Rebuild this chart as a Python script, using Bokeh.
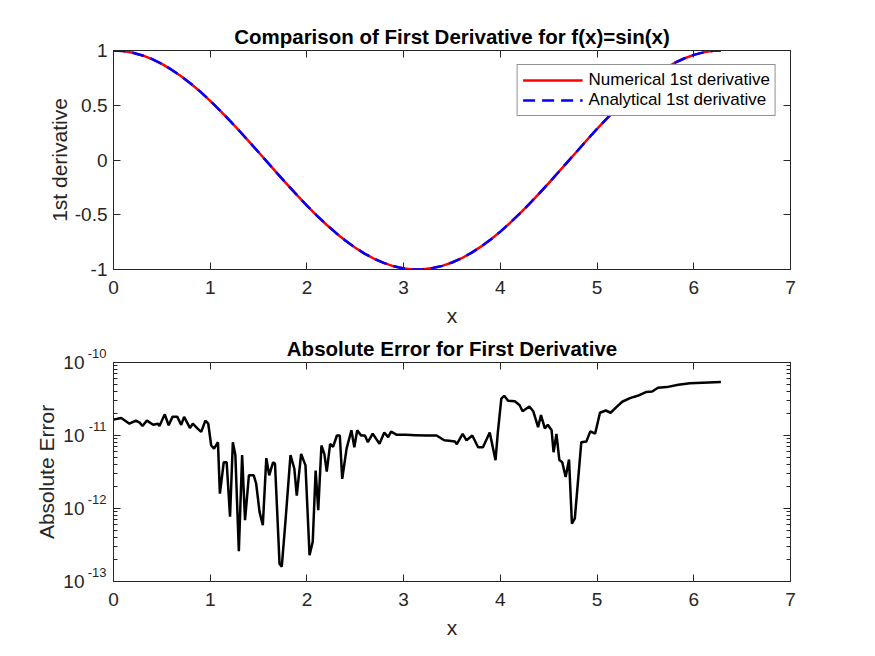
import math

from bokeh.plotting import figure
from bokeh.layouts import column
from bokeh.models import (Range1d, FixedTicker, LinearAxis, LogAxis, Legend, LegendItem,
                          CustomJSTickFormatter)
from bokeh.embed import file_html
from bokeh.resources import INLINE

# first derivative (numerical and analytical coincide)
x_deriv = [0.0, 0.1, 0.2, 0.3, 0.4, 0.5, 0.6, 0.7, 0.8, 0.9, 1.0, 1.1, 1.2, 1.3, 1.4, 1.5,
           1.6, 1.7, 1.8, 1.9, 2.0, 2.1, 2.2, 2.3, 2.4, 2.5, 2.6, 2.7, 2.8, 2.9, 3.0, 3.1,
           3.2, 3.3, 3.4, 3.5, 3.6, 3.7, 3.8, 3.9, 4.0, 4.1, 4.2, 4.3, 4.4, 4.5, 4.6, 4.7,
           4.8, 4.9, 5.0, 5.1, 5.2, 5.3, 5.4, 5.5, 5.6, 5.7, 5.8, 5.9, 6.0, 6.1, 6.2, 6.28]
num_deriv = [1.000, 0.995, 0.980, 0.955, 0.921, 0.878, 0.825, 0.765, 0.697, 0.622, 0.540,
             0.454, 0.362, 0.267, 0.170, 0.071, -0.029, -0.129, -0.227, -0.323, -0.416,
             -0.505, -0.589, -0.666, -0.737, -0.801, -0.857, -0.904, -0.942, -0.971, -0.990,
             -0.999, -0.998, -0.987, -0.967, -0.936, -0.897, -0.848, -0.791, -0.726, -0.654,
             -0.575, -0.490, -0.401, -0.307, -0.211, -0.112, -0.012, 0.087, 0.187, 0.284,
             0.378, 0.469, 0.554, 0.635, 0.709, 0.776, 0.835, 0.886, 0.927, 0.960, 0.983,
             0.997, 1.000]
ana_deriv = [1.000, 0.995, 0.980, 0.955, 0.921, 0.878, 0.825, 0.765, 0.697, 0.622, 0.540,
             0.454, 0.362, 0.267, 0.170, 0.071, -0.029, -0.129, -0.227, -0.323, -0.416,
             -0.505, -0.589, -0.666, -0.737, -0.801, -0.857, -0.904, -0.942, -0.971, -0.990,
             -0.999, -0.998, -0.987, -0.967, -0.936, -0.897, -0.848, -0.791, -0.726, -0.654,
             -0.575, -0.490, -0.401, -0.307, -0.211, -0.112, -0.012, 0.087, 0.187, 0.284,
             0.378, 0.469, 0.554, 0.635, 0.709, 0.776, 0.835, 0.886, 0.927, 0.960, 0.983,
             0.997, 1.000]

# absolute error
x_err = [0.00, 0.08, 0.165, 0.23, 0.27, 0.30, 0.345, 0.41, 0.46, 0.475, 0.53, 0.57, 0.61,
         0.66, 0.70, 0.73, 0.79, 0.82, 0.87, 0.907, 0.95, 0.98, 1.01, 1.04, 1.08, 1.10,
         1.14, 1.17, 1.205, 1.234, 1.26, 1.296, 1.33, 1.36, 1.40, 1.45, 1.475, 1.51,
         1.544, 1.58, 1.61, 1.65, 1.67, 1.717, 1.74, 1.78, 1.83, 1.87, 1.895, 1.94,
         1.985, 2.027, 2.06, 2.09, 2.117, 2.15, 2.18, 2.205, 2.24, 2.27, 2.31, 2.34,
         2.365, 2.41, 2.46, 2.49, 2.52, 2.56, 2.60, 2.63, 2.68, 2.75, 2.80, 2.84, 2.87,
         2.93, 3.02, 3.12, 3.23, 3.34, 3.42, 3.47, 3.53, 3.55, 3.61, 3.65, 3.71, 3.77,
         3.82, 3.89, 3.95, 3.974, 4.01, 4.04, 4.08, 4.15, 4.20, 4.23, 4.30, 4.34, 4.39,
         4.42, 4.46, 4.49, 4.53, 4.55, 4.58, 4.61, 4.64, 4.675, 4.71, 4.74, 4.77, 4.837,
         4.89, 4.93, 4.98, 5.03, 5.09, 5.14, 5.20, 5.26, 5.34, 5.42, 5.51, 5.57, 5.63,
         5.72, 5.84, 5.96, 6.09, 6.28]
abs_err = [1.65e-11, 1.74e-11, 1.45e-11, 1.6e-11, 1.5e-11, 1.35e-11, 1.6e-11, 1.4e-11,
           1.45e-11, 1.35e-11, 1.95e-11, 1.38e-11, 1.8e-11, 1.8e-11, 1.4e-11, 1.8e-11,
           1.27e-11, 1.45e-11, 1.24e-11, 1.12e-11, 1.6e-11, 1.45e-11, 7.3e-12, 6.6e-12,
           8.1e-12, 1.6e-12, 4.3e-12, 4.3e-12, 7.7e-13, 8.1e-12, 5.4e-12, 2.6e-13, 5.4e-12,
           6.9e-13, 2.85e-12, 2.85e-12, 2.2e-12, 9e-13, 5.9e-13, 4.9e-12, 2.85e-12, 4.3e-12,
           4.1e-12, 1.74e-13, 1.6e-13, 7.2e-13, 5.4e-12, 3.5e-12, 1.5e-12, 5.6e-12, 3.9e-12,
           2.3e-13, 3.5e-13, 3.3e-12, 9.5e-13, 7.3e-12, 5.6e-12, 3.2e-12, 7.7e-12, 7e-12,
           1e-11, 1e-11, 2.55e-12, 6.6e-12, 1.18e-11, 6.9e-12, 1.18e-11, 1e-11, 1e-11,
           8.1e-12, 1.06e-11, 7.7e-12, 1.1e-11, 9.5e-12, 1.13e-11, 1.02e-11, 1.02e-11,
           1.01e-11, 1e-11, 1e-11, 8.6e-12, 8.5e-12, 8.3e-12, 7.6e-12, 1.05e-11, 8.6e-12,
           1e-11, 6.9e-12, 6.9e-12, 1.1e-11, 4.6e-12, 1.1e-11, 3.2e-11, 3.5e-11, 3.0e-11,
           2.95e-11, 2.6e-11, 2.15e-11, 2.5e-11, 2.15e-11, 1.3e-11, 1.9e-11, 1.25e-11,
           1.4e-11, 1.18e-11, 5.9e-12, 1.05e-11, 4.6e-12, 4.3e-12, 2.7e-12, 4.7e-12, 6.2e-13,
           7.3e-13, 8.1e-12, 8.3e-12, 1.14e-11, 1.06e-11, 2.05e-11, 2.2e-11, 2.05e-11,
           2.45e-11, 2.9e-11, 3.25e-11, 3.5e-11, 3.95e-11, 4.0e-11, 4.5e-11, 4.6e-11,
           4.95e-11, 5.2e-11, 5.3e-11, 5.4e-11]

x_ticks = [0, 1, 2, 3, 4, 5, 6, 7]
y_ticks_top = [-1, -0.5, 0, 0.5, 1]
y_ticks_log = [1e-13, 1e-12, 1e-11, 1e-10]

FONT = "Liberation Sans"
AX = "#262626"

blank = CustomJSTickFormatter(code="return ''")
plain = CustomJSTickFormatter(code="return tick.toString()")
base10 = CustomJSTickFormatter(code="return '10'")
# exponent on the first line, empty second line lifts it above the tick
expo = CustomJSTickFormatter(code="return String(Math.round(Math.log10(tick))) + '\\n '")


def style_axis(ax, label=None, standoff=9, label_standoff=8):
    ax.axis_line_color = AX
    ax.major_tick_line_color = AX
    ax.minor_tick_line_color = AX
    ax.major_tick_in = 7
    ax.major_tick_out = 0
    ax.minor_tick_in = 0
    ax.minor_tick_out = 0
    ax.major_label_text_font = FONT
    ax.major_label_text_font_size = "19px"
    ax.major_label_text_color = AX
    ax.major_label_standoff = standoff
    if label:
        ax.axis_label = label
        ax.axis_label_text_font = FONT
        ax.axis_label_text_font_size = "21px"
        ax.axis_label_text_font_style = "normal"
        ax.axis_label_text_color = AX
        ax.axis_label_standoff = label_standoff


def make_fig(title, y_axis_type, y_range, top):
    p = figure(frame_width=677, frame_height=219, x_range=Range1d(0, 7), y_range=y_range,
               y_axis_type=y_axis_type, output_backend="svg", toolbar_location=None,
               min_border_left=113, min_border_right=40, min_border_top=top,
               min_border_bottom=58, background_fill_color="white",
               border_fill_color="white")
    p.title.text = title
    p.title.align = "center"
    p.title.text_font = FONT
    p.title.text_font_size = "20.5px"
    p.title.text_font_style = "bold"
    p.title.text_color = "black"
    p.title.standoff = 5
    p.grid.visible = False
    p.outline_line_color = AX
    p.outline_line_width = 1
    p.xaxis.ticker = FixedTicker(ticks=x_ticks)
    p.xaxis.formatter = plain
    style_axis(p.xaxis[0], "x", standoff=11, label_standoff=7)
    top_ax = LinearAxis(ticker=FixedTicker(ticks=x_ticks), formatter=blank)
    style_axis(top_ax)
    p.add_layout(top_ax, "above")
    return p


# top panel
p1 = make_fig("Comparison of First Derivative for f(x)=sin(x)", "linear", Range1d(-1, 1), 50)
p1.yaxis.ticker = FixedTicker(ticks=y_ticks_top)
p1.yaxis.formatter = plain
style_axis(p1.yaxis[0], "1st derivative", standoff=6, label_standoff=1)
r_ax = LinearAxis(ticker=FixedTicker(ticks=y_ticks_top), formatter=blank)
style_axis(r_ax)
p1.add_layout(r_ax, "right")

r_num = p1.line(x_deriv, num_deriv, line_color="#FF0000", line_width=2.5)
r_ana = p1.line(x_deriv, ana_deriv, line_color="#0000FF", line_width=2.5, line_dash="12 7")

legend = Legend(items=[LegendItem(label="Numerical 1st derivative", renderers=[r_num]),
                       LegendItem(label="Analytical 1st derivative", renderers=[r_ana])],
                location="top_right", margin=14, padding=5, spacing=0,
                glyph_width=60, glyph_height=20, label_height=20, label_standoff=6,
                label_text_font=FONT, label_text_font_size="17px", label_text_color="black",
                border_line_color=AX, border_line_width=1, background_fill_alpha=1)
p1.add_layout(legend)

# bottom panel
p2 = make_fig("Absolute Error for First Derivative", "log", Range1d(1e-13, 1e-10), 33)
minor = [k * d for d in y_ticks_log[:-1] for k in range(2, 10)]
p2.yaxis.ticker = FixedTicker(ticks=y_ticks_log, minor_ticks=minor)
p2.yaxis.formatter = expo
style_axis(p2.yaxis[0], standoff=7)
p2.yaxis.major_label_text_font_size = "13px"
p2.yaxis.minor_tick_in = 4

# the "10" bases sit on a second left axis, just outside the exponents
base_ax = LogAxis(ticker=FixedTicker(ticks=y_ticks_log), formatter=base10)
style_axis(base_ax, "Absolute Error", standoff=0, label_standoff=2)
base_ax.axis_line_color = None
base_ax.major_tick_in = 0
p2.add_layout(base_ax, "left")

rl_ax = LogAxis(ticker=FixedTicker(ticks=y_ticks_log, minor_ticks=minor), formatter=blank)
style_axis(rl_ax)
rl_ax.minor_tick_in = 4
p2.add_layout(rl_ax, "right")

p2.line(x_err, abs_err, line_color="black", line_width=2.5)

layout = column(p1, p2, spacing=0)
open("out.html", "w").write(file_html(layout, INLINE))
